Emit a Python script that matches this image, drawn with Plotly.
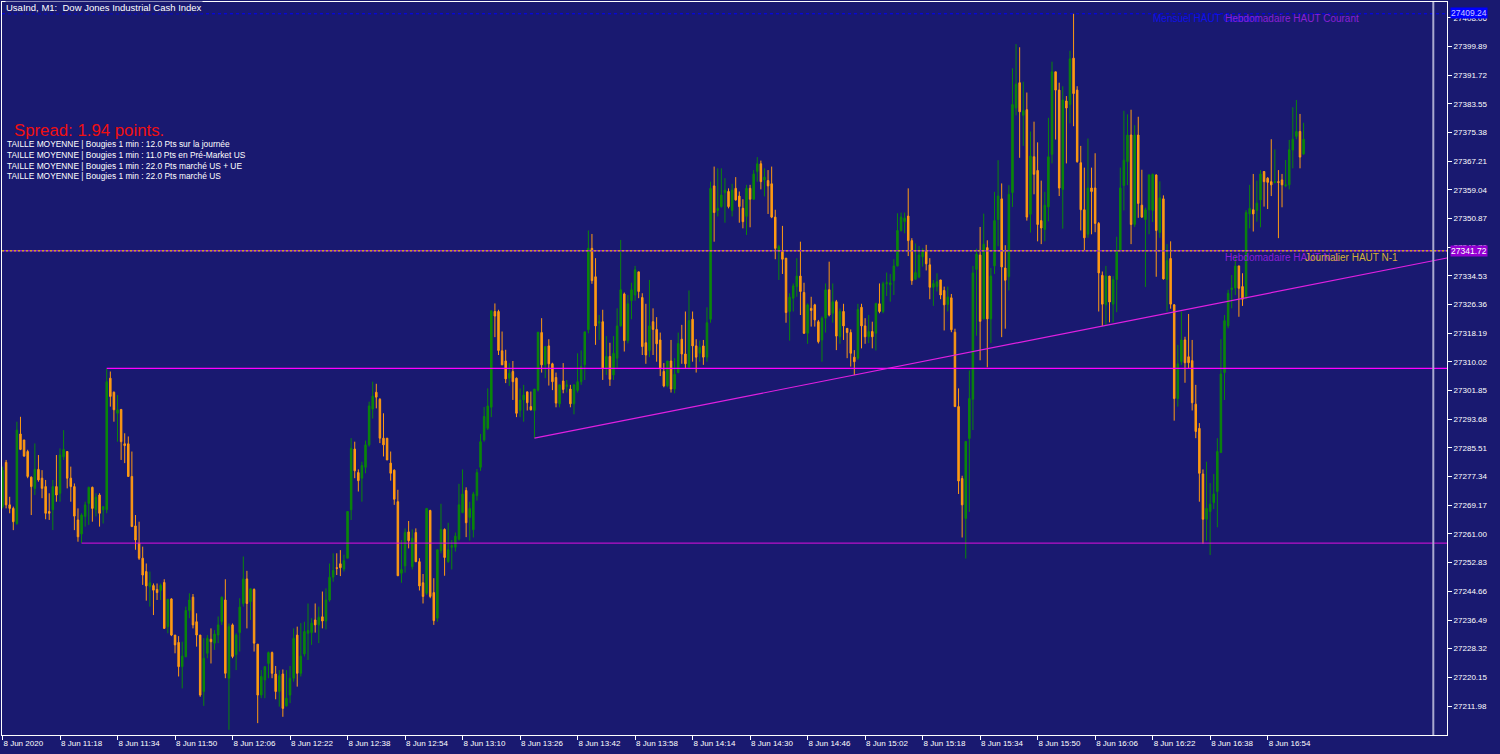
import plotly.graph_objects as go

# MT4 style colours
BG = "#191970"
BULL = "#0A870A"
BEAR = "#FF9A12"
FONT = "Liberation Sans"

# M1 candles, first bar at 11:02
open_prices = [
    27268.8, 27281.4, 27269.3, 27268.3, 27264.0, 27289.5, 27287.8, 27284.5, 27277.2, 27274.0,
    27279.4, 27276.9, 27274.5, 27267.4, 27267.9, 27274.5, 27272.6, 27283.0, 27284.5, 27276.9,
    27274.5, 27265.0, 27261.0, 27266.0, 27269.7, 27274.3, 27267.9, 27272.1, 27267.9, 27267.9,
    27305.4, 27301.4, 27295.4, 27296.5, 27286.7, 27286.7, 27277.4, 27263.3, 27258.4, 27254.1,
    27250.3, 27246.0, 27246.3, 27245.2, 27244.9, 27247.2, 27234.6, 27242.5, 27232.2, 27230.1,
    27223.2, 27226.0, 27239.2, 27243.0, 27236.0, 27232.2, 27216.1, 27227.0, 27231.0, 27229.9,
    27232.2, 27236.0, 27242.2, 27219.9, 27235.1, 27226.6, 27232.9, 27241.2, 27248.2, 27241.7,
    27245.2, 27229.6, 27215.1, 27219.4, 27224.1, 27227.2, 27221.1, 27216.1, 27221.1, 27212.0,
    27215.1, 27219.9, 27232.2, 27221.3, 27226.8, 27232.7, 27232.9, 27236.5, 27235.1, 27237.4,
    27236.2, 27242.2, 27248.7, 27251.4, 27252.5, 27251.0, 27254.1, 27267.9, 27285.2, 27278.5,
    27276.9, 27280.0, 27286.4, 27296.6, 27301.4, 27299.4, 27288.3, 27288.3, 27281.2, 27279.2,
    27270.2, 27249.8, 27251.9, 27261.6, 27251.7, 27261.4, 27253.1, 27247.1, 27244.1, 27267.7,
    27244.3, 27237.0, 27256.3, 27262.3, 27253.1, 27257.2, 27257.2, 27259.5, 27267.1, 27273.4,
    27265.7, 27262.2, 27271.9, 27280.0, 27287.8, 27291.1, 27297.1, 27324.4, 27324.4, 27313.2,
    27310.3, 27305.4, 27307.3, 27305.4, 27296.2, 27299.2, 27301.5, 27297.3, 27296.2, 27302.0,
    27318.4, 27309.2, 27314.6, 27309.5, 27305.6, 27298.1, 27304.6, 27303.0, 27302.3, 27298.1,
    27301.9, 27304.4, 27309.2, 27319.2, 27342.4, 27334.3, 27321.1, 27321.5, 27308.2, 27311.6,
    27306.3, 27311.1, 27320.3, 27329.4, 27316.1, 27327.5, 27329.1, 27335.7, 27328.4, 27315.5,
    27313.3, 27321.5, 27319.3, 27316.3, 27307.3, 27303.2, 27310.3, 27302.3, 27307.0, 27316.5,
    27312.3, 27308.5, 27322.2, 27314.6, 27312.5, 27314.6, 27311.4, 27322.2, 27360.2, 27353.2,
    27354.3, 27358.3, 27358.6, 27353.2, 27359.5, 27357.3, 27353.8, 27351.5, 27359.5, 27356.4,
    27364.3, 27366.5, 27361.9, 27361.7, 27360.8, 27351.3, 27342.0, 27341.5, 27339.6, 27324.4,
    27328.2, 27331.5, 27334.5, 27329.8, 27318.2, 27325.3, 27326.3, 27321.5, 27316.3, 27322.5,
    27330.6, 27323.9, 27327.2, 27317.2, 27324.4, 27319.6, 27318.4, 27311.4, 27311.1, 27325.6,
    27320.3, 27317.2, 27318.7, 27318.2, 27326.6, 27324.4, 27332.3, 27332.0, 27333.2, 27337.4,
    27347.5, 27350.0, 27351.6, 27344.6, 27333.6, 27334.2, 27340.0, 27341.8, 27337.7, 27331.3,
    27331.5, 27333.4, 27330.4, 27326.4, 27328.3, 27318.5, 27297.3, 27276.8, 27265.4, 27288.2,
    27299.4, 27336.4, 27340.5, 27322.3, 27342.6, 27322.3, 27337.4, 27350.6, 27356.5, 27336.8,
    27334.3, 27358.3, 27382.4, 27389.6, 27380.3, 27381.9, 27352.1, 27368.5, 27364.6, 27350.3,
    27347.8, 27354.2, 27369.2, 27392.7, 27387.5, 27359.2, 27384.4, 27383.4, 27396.6, 27387.5,
    27366.8, 27353.4, 27346.4, 27359.6, 27359.6, 27349.5, 27334.7, 27326.3, 27334.5, 27326.5,
    27333.5, 27341.8, 27360.3, 27367.1, 27374.7, 27349.2, 27374.7, 27354.7, 27350.6, 27353.4,
    27353.2, 27363.3, 27346.9, 27356.5, 27333.5, 27339.5, 27326.3, 27299.6, 27310.1, 27316.3,
    27311.5, 27310.4, 27298.0, 27291.1, 27278.1, 27265.2, 27267.4, 27269.9, 27273.1, 27284.2,
    27307.0, 27320.3, 27330.7, 27331.1, 27337.4, 27331.5, 27328.2, 27352.2, 27353.4, 27353.2,
    27356.2, 27364.3, 27362.4, 27361.4, 27361.2, 27361.4, 27361.9, 27360.2, 27360.5, 27370.4,
    27374.3, 27375.7, 27369.3,
]

high_prices = [
    27280.2, 27282.1, 27271.6, 27268.8, 27293.0, 27294.4, 27287.8, 27285.0, 27277.4, 27286.8,
    27283.5, 27279.2, 27276.4, 27272.6, 27276.4, 27283.5, 27285.4, 27290.6, 27284.5, 27280.2,
    27275.4, 27268.3, 27266.9, 27270.2, 27274.5, 27274.5, 27272.6, 27272.6, 27268.8, 27308.2,
    27307.3, 27301.6, 27300.6, 27296.5, 27289.7, 27288.8, 27284.5, 27266.4, 27264.5, 27257.4,
    27252.6, 27250.3, 27246.9, 27246.9, 27246.9, 27248.1, 27242.4, 27242.7, 27232.2, 27231.9,
    27230.3, 27240.3, 27244.1, 27243.9, 27238.4, 27232.2, 27231.3, 27232.2, 27234.1, 27233.6,
    27237.5, 27243.2, 27248.1, 27235.5, 27235.5, 27232.7, 27242.7, 27254.6, 27250.5, 27245.5,
    27245.5, 27229.6, 27222.2, 27223.2, 27227.5, 27227.5, 27223.4, 27222.2, 27222.4, 27222.2,
    27223.4, 27234.1, 27234.6, 27235.6, 27236.0, 27241.2, 27237.0, 27241.2, 27240.3, 27244.6,
    27245.5, 27252.6, 27255.5, 27255.5, 27256.4, 27255.1, 27267.4, 27288.3, 27287.3, 27279.4,
    27281.6, 27287.6, 27298.7, 27304.4, 27303.8, 27299.7, 27295.4, 27288.3, 27284.5, 27279.4,
    27273.6, 27259.3, 27262.6, 27264.7, 27262.3, 27262.6, 27254.1, 27249.6, 27268.3, 27267.9,
    27248.4, 27256.5, 27269.6, 27262.6, 27264.2, 27259.3, 27261.4, 27275.3, 27279.4, 27274.3,
    27270.2, 27273.0, 27279.5, 27289.5, 27297.2, 27302.5, 27324.6, 27326.7, 27324.9, 27318.7,
    27313.5, 27309.7, 27310.3, 27305.6, 27302.5, 27303.5, 27301.5, 27301.6, 27302.3, 27318.5,
    27322.5, 27314.4, 27316.5, 27309.8, 27307.0, 27303.5, 27309.7, 27304.9, 27303.5, 27303.5,
    27312.5, 27313.3, 27318.6, 27347.5, 27346.5, 27339.6, 27323.4, 27324.9, 27317.4, 27315.5,
    27317.4, 27325.3, 27344.8, 27329.8, 27329.1, 27332.6, 27337.4, 27335.7, 27329.6, 27326.6,
    27333.4, 27325.3, 27322.8, 27318.4, 27309.7, 27310.3, 27316.3, 27311.1, 27318.4, 27320.6,
    27324.4, 27330.4, 27324.4, 27316.5, 27316.1, 27316.3, 27325.6, 27361.4, 27365.7, 27365.2,
    27365.2, 27362.4, 27359.5, 27360.8, 27362.7, 27358.6, 27356.4, 27360.5, 27360.5, 27364.7,
    27368.4, 27367.4, 27365.2, 27364.7, 27365.7, 27353.4, 27343.4, 27348.8, 27339.6, 27329.6,
    27332.4, 27339.6, 27344.3, 27332.6, 27326.7, 27328.6, 27326.6, 27322.0, 27323.0, 27332.4,
    27338.6, 27332.4, 27327.7, 27325.3, 27326.6, 27319.6, 27319.3, 27313.4, 27326.6, 27326.6,
    27322.5, 27323.4, 27321.5, 27326.9, 27332.4, 27332.9, 27335.5, 27335.1, 27339.3, 27352.4,
    27352.6, 27352.6, 27359.5, 27345.3, 27343.8, 27343.1, 27342.4, 27343.4, 27339.6, 27333.4,
    27335.3, 27333.4, 27331.5, 27331.5, 27329.4, 27319.5, 27302.5, 27277.6, 27287.4, 27307.6,
    27337.4, 27342.3, 27348.5, 27352.3, 27344.7, 27336.8, 27358.5, 27367.5, 27360.9, 27343.3,
    27360.4, 27393.7, 27400.6, 27399.7, 27389.9, 27386.8, 27375.7, 27378.5, 27372.6, 27361.7,
    27358.5, 27379.6, 27395.6, 27392.7, 27389.6, 27388.6, 27385.8, 27398.7, 27409.24, 27388.6,
    27371.6, 27365.4, 27373.7, 27365.4, 27369.5, 27349.9, 27335.8, 27337.4, 27334.5, 27334.5,
    27345.7, 27365.4, 27381.6, 27380.6, 27381.9, 27377.5, 27379.9, 27364.8, 27354.0, 27363.5,
    27363.7, 27363.5, 27361.5, 27357.5, 27343.6, 27344.4, 27326.5, 27314.9, 27324.4, 27317.2,
    27323.7, 27316.3, 27303.5, 27292.6, 27279.4, 27281.6, 27275.5, 27278.1, 27288.3, 27316.5,
    27323.4, 27330.6, 27334.8, 27340.5, 27337.4, 27335.3, 27353.3, 27360.5, 27363.6, 27361.7,
    27364.7, 27364.3, 27362.7, 27373.5, 27370.6, 27364.7, 27363.6, 27367.6, 27373.3, 27382.6,
    27384.7, 27380.7, 27378.2,
]

low_prices = [
    27268.3, 27268.3, 27266.9, 27262.1, 27263.6, 27284.9, 27283.0, 27276.9, 27266.4, 27272.1,
    27275.9, 27271.2, 27265.2, 27265.0, 27262.1, 27270.2, 27270.2, 27282.1, 27274.0, 27270.2,
    27262.1, 27258.8, 27258.4, 27263.1, 27263.6, 27264.5, 27266.0, 27263.1, 27264.0, 27266.9,
    27297.3, 27293.0, 27287.3, 27282.1, 27281.2, 27277.4, 27263.1, 27256.5, 27253.6, 27246.5,
    27242.0, 27240.3, 27237.9, 27242.2, 27242.2, 27234.1, 27232.7, 27231.9, 27227.0, 27220.4,
    27217.0, 27226.0, 27237.0, 27234.1, 27228.9, 27214.6, 27212.0, 27225.6, 27224.1, 27228.0,
    27229.9, 27235.1, 27219.9, 27205.2, 27225.6, 27222.2, 27227.5, 27240.3, 27234.1, 27236.5,
    27227.5, 27207.1, 27214.2, 27214.2, 27219.9, 27219.9, 27213.9, 27211.8, 27208.9, 27211.8,
    27212.8, 27218.9, 27217.5, 27220.4, 27226.1, 27225.1, 27229.4, 27232.9, 27229.9, 27234.1,
    27233.8, 27241.7, 27247.4, 27249.3, 27249.0, 27250.3, 27254.1, 27265.0, 27276.9, 27273.1,
    27270.2, 27278.3, 27285.9, 27293.9, 27296.8, 27286.9, 27283.1, 27282.1, 27276.2, 27269.3,
    27249.1, 27247.1, 27250.0, 27256.9, 27250.9, 27253.1, 27244.9, 27241.2, 27243.6, 27242.7,
    27235.1, 27236.0, 27255.5, 27249.1, 27252.8, 27250.9, 27256.0, 27259.1, 27266.9, 27260.1,
    27259.1, 27260.0, 27270.5, 27279.0, 27287.3, 27290.6, 27294.3, 27317.1, 27312.0, 27309.2,
    27304.0, 27303.2, 27299.2, 27294.3, 27294.3, 27293.0, 27296.2, 27296.2, 27288.3, 27301.6,
    27307.0, 27305.4, 27303.3, 27302.0, 27297.1, 27297.1, 27301.1, 27301.3, 27297.1, 27295.1,
    27301.3, 27303.5, 27304.9, 27318.2, 27332.3, 27314.9, 27316.3, 27304.9, 27306.3, 27303.2,
    27304.9, 27308.2, 27320.1, 27313.0, 27315.3, 27322.2, 27327.5, 27328.2, 27312.0, 27309.5,
    27311.4, 27312.0, 27310.1, 27306.0, 27302.8, 27302.8, 27301.3, 27301.1, 27306.8, 27309.5,
    27308.2, 27307.9, 27310.1, 27307.0, 27310.1, 27309.2, 27310.1, 27321.2, 27344.3, 27351.5,
    27354.0, 27349.7, 27353.8, 27351.5, 27356.0, 27349.7, 27348.1, 27346.2, 27348.4, 27356.2,
    27361.4, 27359.2, 27357.2, 27352.2, 27351.0, 27339.3, 27333.4, 27335.1, 27321.2, 27316.1,
    27324.4, 27328.6, 27323.4, 27318.0, 27315.2, 27320.1, 27320.1, 27315.3, 27310.1, 27318.4,
    27323.0, 27321.2, 27313.4, 27315.2, 27316.3, 27311.1, 27308.7, 27306.3, 27310.6, 27313.9,
    27315.2, 27315.4, 27313.9, 27313.3, 27323.9, 27323.9, 27328.8, 27327.2, 27329.1, 27337.2,
    27347.2, 27346.7, 27340.2, 27332.0, 27333.4, 27333.9, 27337.2, 27336.1, 27327.9, 27326.0,
    27330.1, 27327.9, 27319.0, 27324.4, 27318.5, 27297.3, 27272.4, 27260.0, 27254.0, 27267.3,
    27290.6, 27317.5, 27310.5, 27322.1, 27308.5, 27315.4, 27335.1, 27343.0, 27317.1, 27319.5,
    27330.4, 27354.2, 27380.3, 27368.2, 27371.6, 27350.3, 27346.9, 27357.8, 27344.4, 27343.6,
    27344.4, 27350.1, 27366.6, 27373.4, 27357.3, 27348.0, 27366.6, 27378.0, 27377.2, 27366.8,
    27347.5, 27341.8, 27345.4, 27346.4, 27347.0, 27324.4, 27320.3, 27320.3, 27321.3, 27321.3,
    27324.2, 27341.3, 27353.2, 27360.4, 27343.6, 27348.5, 27351.1, 27351.1, 27331.4, 27346.4,
    27349.9, 27334.3, 27345.4, 27333.5, 27324.4, 27325.2, 27293.3, 27297.3, 27309.2, 27304.1,
    27308.2, 27296.2, 27288.3, 27270.2, 27258.2, 27259.1, 27255.0, 27268.1, 27262.9, 27284.2,
    27299.2, 27319.6, 27325.3, 27329.1, 27322.9, 27326.0, 27328.2, 27348.1, 27347.2, 27350.0,
    27348.4, 27354.3, 27353.6, 27357.3, 27360.9, 27345.3, 27354.1, 27359.8, 27359.2, 27365.2,
    27373.5, 27365.2, 27369.0,
]

close_prices = [
    27279.2, 27269.3, 27268.3, 27264.5, 27290.6, 27285.1, 27283.2, 27277.4, 27274.5, 27279.4,
    27276.4, 27274.0, 27266.9, 27266.9, 27274.5, 27272.1, 27283.5, 27285.1, 27276.9, 27274.5,
    27266.1, 27260.2, 27266.4, 27269.3, 27274.3, 27268.3, 27271.5, 27266.9, 27268.8, 27304.4,
    27300.2, 27296.4, 27296.4, 27287.3, 27286.2, 27277.4, 27263.1, 27259.3, 27254.1, 27249.3,
    27246.2, 27247.1, 27245.0, 27244.3, 27246.4, 27234.1, 27242.4, 27232.2, 27229.4, 27223.2,
    27226.2, 27239.2, 27242.2, 27235.1, 27232.2, 27215.1, 27225.6, 27231.3, 27230.3, 27232.5,
    27235.1, 27243.0, 27221.3, 27234.6, 27226.1, 27232.2, 27240.2, 27248.2, 27241.2, 27245.4,
    27229.9, 27215.1, 27220.4, 27223.2, 27227.2, 27221.3, 27216.1, 27220.6, 27211.3, 27214.2,
    27219.9, 27231.3, 27221.3, 27226.2, 27233.2, 27233.5, 27235.6, 27235.1, 27237.3, 27236.2,
    27242.2, 27248.7, 27250.6, 27251.2, 27251.4, 27253.4, 27267.4, 27285.4, 27279.0, 27276.2,
    27280.5, 27286.4, 27297.5, 27300.3, 27300.0, 27288.3, 27286.4, 27282.1, 27278.3, 27270.9,
    27249.1, 27250.9, 27261.4, 27259.1, 27259.8, 27253.1, 27246.2, 27243.2, 27268.3, 27243.2,
    27236.3, 27256.5, 27262.3, 27254.3, 27256.5, 27257.7, 27260.4, 27269.3, 27272.4, 27264.2,
    27268.3, 27272.4, 27278.5, 27287.3, 27294.5, 27297.5, 27324.6, 27323.1, 27313.3, 27309.2,
    27305.2, 27306.8, 27304.4, 27295.4, 27299.2, 27300.6, 27298.4, 27296.4, 27302.3, 27318.5,
    27309.2, 27314.4, 27309.5, 27304.4, 27298.3, 27303.5, 27302.2, 27303.5, 27298.1, 27303.5,
    27304.4, 27308.7, 27318.6, 27342.4, 27333.2, 27320.3, 27321.5, 27308.2, 27311.6, 27305.1,
    27312.5, 27320.3, 27330.6, 27316.1, 27326.6, 27330.6, 27336.3, 27330.1, 27314.4, 27312.0,
    27320.3, 27319.3, 27315.2, 27308.2, 27303.2, 27310.3, 27302.3, 27306.5, 27315.3, 27312.3,
    27309.5, 27321.8, 27314.6, 27311.4, 27314.2, 27311.4, 27321.2, 27359.5, 27352.6, 27353.8,
    27357.6, 27359.0, 27354.3, 27359.0, 27356.2, 27354.3, 27350.0, 27359.5, 27356.4, 27363.6,
    27366.5, 27361.4, 27362.7, 27360.2, 27351.3, 27342.4, 27342.9, 27339.3, 27324.1, 27328.5,
    27331.7, 27334.5, 27330.1, 27318.2, 27326.3, 27324.7, 27322.0, 27315.8, 27322.5, 27330.6,
    27323.4, 27327.2, 27317.4, 27324.4, 27320.3, 27318.4, 27312.5, 27310.1, 27325.0, 27320.3,
    27317.2, 27318.7, 27317.2, 27326.7, 27324.4, 27332.3, 27332.6, 27332.6, 27337.4, 27347.5,
    27351.3, 27351.0, 27344.6, 27333.2, 27335.5, 27340.5, 27341.5, 27338.0, 27331.3, 27332.4,
    27332.9, 27329.1, 27326.3, 27328.5, 27319.2, 27297.3, 27276.1, 27269.3, 27287.4, 27299.6,
    27335.4, 27340.8, 27321.6, 27343.6, 27322.3, 27334.5, 27350.3, 27357.3, 27337.1, 27333.3,
    27357.8, 27383.4, 27389.2, 27381.3, 27381.6, 27351.3, 27368.7, 27363.5, 27349.2, 27348.2,
    27354.7, 27368.5, 27392.7, 27387.5, 27359.6, 27384.7, 27382.4, 27396.4, 27386.5, 27367.1,
    27353.4, 27345.4, 27359.6, 27358.6, 27349.5, 27335.4, 27326.5, 27334.5, 27327.1, 27333.5,
    27341.8, 27359.6, 27367.5, 27374.7, 27349.2, 27374.7, 27355.2, 27351.3, 27353.4, 27363.3,
    27363.5, 27347.5, 27356.8, 27333.7, 27338.9, 27326.5, 27299.6, 27309.5, 27316.3, 27309.8,
    27309.8, 27298.4, 27290.2, 27278.3, 27265.2, 27268.3, 27269.5, 27272.4, 27284.5, 27306.6,
    27321.8, 27329.6, 27331.1, 27337.4, 27331.0, 27327.9, 27352.6, 27353.8, 27352.2, 27355.3,
    27363.6, 27361.4, 27361.2, 27360.5, 27361.4, 27361.2, 27360.5, 27360.5, 27370.5, 27373.5,
    27375.7, 27368.4, 27373.5,
]

# time axis labels (every 16 bars)
tick_times = ["11:02", "11:18", "11:34", "11:50", "12:06", "12:22", "12:38", "12:54",
              "13:10", "13:26", "13:42", "13:58", "14:14", "14:30", "14:46", "15:02",
              "15:18", "15:34", "15:50", "16:06", "16:22", "16:38", "16:54"]

# price scale labels
price_labels = ["27211.98", "27220.15", "27228.32", "27236.49", "27244.66", "27252.83",
                "27261.00", "27269.17", "27277.34", "27285.51", "27293.68", "27301.85",
                "27310.02", "27318.19", "27326.36", "27334.53", "27342.70", "27350.87",
                "27359.04", "27367.21", "27375.38", "27383.55", "27391.72", "27399.89",
                "27408.06"]

# levels drawn on the chart
month_high = 27409.24          # Mensuel / Hebdomadaire HAUT Courant
prev_high = 27341.72           # Hebdomadaire / Journalier HAUT N-1
resist_level = 27308.2         # from bar 29
resist_start = 29
support_level = 27258.4        # from bar 22
support_start = 22
trend_a = (148, 27288.3)
trend_b = (237, 27306.3)

info_lines = [
    "TAILLE MOYENNE | Bougies 1 min : 12.0 Pts sur la journée",
    "TAILLE MOYENNE | Bougies 1 min : 11.0 Pts en Pré-Market US",
    "TAILLE MOYENNE | Bougies 1 min : 22.0 Pts marché US + UE",
    "TAILLE MOYENNE | Bougies 1 min : 22.0 Pts marché US",
]

bars = list(range(len(close_prices)))

start_min = 11 * 60 + 2
tick_pos = []
tick_text = []
for t in tick_times:
    h, mm = t.split(":")
    tick_pos.append(int(h) * 60 + int(mm) - start_min)
    tick_text.append("8 Jun 2020" if t == tick_times[0] else "8 Jun " + t)

X_LO, X_HI = -0.14, 401.9
Y_LO, Y_HI = 27203.72, 27412.60

# plot box in pixels: x 2..1447, y 2..735
def px(x):
    return (x - 2) / 1445.0

def py(y):
    return (735 - y) / 733.0

fig = go.Figure()
fig.add_trace(go.Candlestick(
    x=bars, open=open_prices, high=high_prices, low=low_prices, close=close_prices,
    increasing=dict(line=dict(color=BULL, width=1), fillcolor=BULL),
    decreasing=dict(line=dict(color=BEAR, width=1), fillcolor=BEAR),
    whiskerwidth=0, showlegend=False, hoverinfo="skip"))

trend_slope = (trend_b[1] - trend_a[1]) / (trend_b[0] - trend_a[0])
trend_end = trend_a[1] + trend_slope * (X_HI - trend_a[0])

shapes = [
    dict(type="line", xref="x", yref="y", x0=X_LO, x1=X_HI, y0=month_high, y1=month_high,
         line=dict(color="#0000FF", width=1, dash="3px,3px")),
    dict(type="line", xref="x", yref="y", x0=X_LO, x1=X_HI, y0=prev_high, y1=prev_high,
         line=dict(color="#8A1FD6", width=1.6)),
    dict(type="line", xref="x", yref="y", x0=X_LO, x1=X_HI, y0=prev_high, y1=prev_high,
         line=dict(color="#C8A020", width=1.6, dash="2px,2px")),
    dict(type="line", xref="x", yref="y", x0=resist_start, x1=X_HI, y0=resist_level, y1=resist_level,
         line=dict(color="#FF00FF", width=1.2)),
    dict(type="line", xref="x", yref="y", x0=support_start, x1=X_HI, y0=support_level, y1=support_level,
         line=dict(color="#E010E0", width=1)),
    dict(type="line", xref="x", yref="y", x0=trend_a[0], x1=X_HI, y0=trend_a[1], y1=trend_end,
         line=dict(color="#E020E0", width=1.2)),
    dict(type="line", xref="paper", yref="paper", x0=px(1433.3), x1=px(1433.3), y0=0, y1=1,
         line=dict(color="#A9A9CF", width=2)),
]

annotations = [
    dict(x=px(5), y=py(8), text="UsaInd, M1:\u00a0 Dow Jones Industrial Cash Index",
         font=dict(family=FONT, size=9.5, color="white"), bgcolor=BG, borderpad=0),
    dict(x=px(12), y=py(130), text="Spread: 1.94 points.",
         font=dict(family=FONT, size=16.8, color="#F01010")),
    dict(x=px(1151), y=py(19), text="Mensuel HAUT Courant",
         font=dict(family=FONT, size=10, color="#1010E8")),
    dict(x=px(1223), y=py(19), text="Hebdomadaire HAUT Courant",
         font=dict(family=FONT, size=10, color="#8A1FD6")),
    dict(x=px(1223), y=py(257), text="Hebdomadaire HAUT N-1",
         font=dict(family=FONT, size=10, color="#8A1FD6")),
    dict(x=px(1303), y=py(257), text="Journalier HAUT N-1",
         font=dict(family=FONT, size=10, color="#D4AE3A")),
    dict(x=px(1450), y=py(12.5), text=f"{month_high:.2f}",
         font=dict(family=FONT, size=8.5, color="#C8C8FF"), bgcolor="#0000FF", borderpad=0),
    dict(x=px(1450), y=py(250.8), text=f"{prev_high:.2f}",
         font=dict(family=FONT, size=8.5, color="white"), bgcolor="#9400D3", borderpad=0),
]
for i, line in enumerate(info_lines):
    annotations.append(dict(x=px(5), y=py(144.3 + 10.7 * i), text=line,
                            font=dict(family=FONT, size=8.4, color="white")))

for a in annotations:
    a.update(xref="paper", yref="paper", xanchor="left", yanchor="middle", showarrow=False)

fig.update_layout(
    width=1500, height=754,
    margin=dict(l=2, r=53, t=2, b=19),
    paper_bgcolor=BG, plot_bgcolor=BG,
    boxgap=0.4,
    shapes=shapes, annotations=annotations,
    showlegend=False,
    xaxis=dict(range=[X_LO, X_HI], rangeslider=dict(visible=False), showgrid=False,
               zeroline=False, showline=True, linecolor="white", linewidth=1, mirror=True,
               tickvals=tick_pos, ticktext=tick_text, ticks="outside", ticklen=4,
               tickcolor="white", ticklabelposition="outside right",
               tickfont=dict(family=FONT, size=8, color="white")),
    yaxis=dict(range=[Y_LO, Y_HI], side="right", showgrid=False, zeroline=False,
               showline=True, linecolor="white", linewidth=1, mirror=True,
               tickvals=[float(v) for v in price_labels], ticktext=price_labels,
               ticks="outside", ticklen=4, tickcolor="white",
               tickfont=dict(family=FONT, size=8, color="white")),
)

fig.write_html("out.html", config={"displayModeBar": False},
               post_script="document.body.style.margin='0';")
